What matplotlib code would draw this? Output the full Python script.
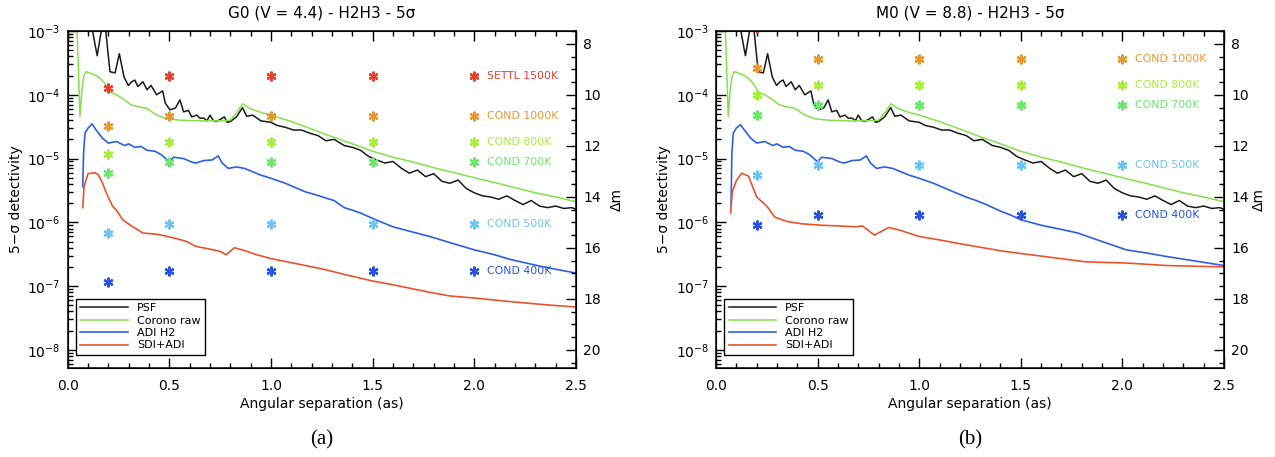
import math
import matplotlib
matplotlib.use("Agg")
import matplotlib.pyplot as plt
from matplotlib.ticker import MultipleLocator, LogLocator, NullFormatter

# ---- data ----------------------------------------------------------------
# PSF (same in both panels)
psf_x = [0.100, 0.120, 0.135, 0.145, 0.160, 0.175, 0.185, 0.200, 0.208, 0.233,
         0.254, 0.277, 0.298, 0.315, 0.330, 0.345, 0.370, 0.390, 0.410, 0.437,
         0.467, 0.480, 0.503, 0.530, 0.552, 0.570, 0.594, 0.610, 0.635, 0.650,
         0.670, 0.685, 0.700, 0.715, 0.730, 0.750, 0.770, 0.785, 0.800, 0.830,
         0.860, 0.880, 0.910, 0.950, 1.000, 1.030, 1.070, 1.110, 1.150, 1.190,
         1.230, 1.270, 1.310, 1.360, 1.400, 1.440, 1.480, 1.520, 1.560, 1.600,
         1.640, 1.680, 1.720, 1.760, 1.800, 1.840, 1.880, 1.920, 1.960, 2.000,
         2.040, 2.080, 2.120, 2.160, 2.200, 2.240, 2.280, 2.320, 2.360, 2.400,
         2.440, 2.480, 2.500]
psf_y = [1.5e-3, 1.1e-3, 6.0e-4, 4.1e-4, 8.0e-4, 1.5e-3, 1.2e-3, 4.0e-4, 2.3e-4, 2.2e-4,
         4.4e-4, 1.9e-4, 1.4e-4, 1.6e-4, 1.7e-4, 1.35e-4, 1.6e-4, 1.2e-4, 1.4e-4, 1.0e-4,
         1.15e-4, 7.4e-5, 5.8e-5, 6.2e-5, 8.3e-5, 5.4e-5, 5.7e-5, 4.5e-5, 4.8e-5, 4.3e-5,
         4.3e-5, 3.9e-5, 4.8e-5, 4.0e-5, 3.8e-5, 4.1e-5, 4.5e-5, 3.7e-5, 3.8e-5, 4.5e-5,
         6.3e-5, 4.6e-5, 4.8e-5, 3.9e-5, 3.7e-5, 3.3e-5, 3.1e-5, 2.8e-5, 2.8e-5, 2.5e-5,
         2.3e-5, 1.9e-5, 2.0e-5, 1.6e-5, 1.5e-5, 1.35e-5, 1.08e-5, 9.5e-6, 8.5e-6, 9.0e-6,
         7.1e-6, 5.9e-6, 6.6e-6, 5.2e-6, 5.8e-6, 4.4e-6, 4.1e-6, 4.6e-6, 3.4e-6, 2.9e-6,
         2.6e-6, 2.5e-6, 2.3e-6, 2.6e-6, 2.2e-6, 1.9e-6, 2.2e-6, 1.8e-6, 1.7e-6, 1.8e-6,
         1.65e-6, 1.7e-6, 1.6e-6]

# Coronagraph raw (same in both panels)
cor_x = [0.044, 0.052, 0.060, 0.070, 0.080, 0.090, 0.117, 0.140, 0.160, 0.180,
         0.210, 0.240, 0.280, 0.310, 0.345, 0.390, 0.437, 0.487, 0.550, 0.650,
         0.750, 0.800, 0.830, 0.860, 0.900, 0.950, 1.000, 1.100, 1.200, 1.300,
         1.400, 1.500, 1.600, 1.700, 1.800, 1.900, 2.000, 2.100, 2.200, 2.300,
         2.400, 2.500]
cor_y = [1.5e-3, 3.0e-4, 4.6e-5, 1.2e-4, 2.0e-4, 2.3e-4, 2.15e-4, 2.0e-4, 1.8e-4, 1.55e-4,
         1.1e-4, 1.0e-4, 8.3e-5, 7.0e-5, 6.5e-5, 6.1e-5, 4.8e-5, 4.2e-5, 4.0e-5, 3.9e-5,
         3.9e-5, 4.0e-5, 5.2e-5, 7.2e-5, 6.0e-5, 5.3e-5, 4.8e-5, 3.8e-5, 2.9e-5, 2.2e-5,
         1.7e-5, 1.3e-5, 1.05e-5, 8.8e-6, 7.2e-6, 6.0e-6, 5.0e-6, 4.2e-6, 3.5e-6, 2.9e-6,
         2.5e-6, 2.1e-6]

# ADI H2
adi_x_a = [0.074, 0.078, 0.085, 0.100, 0.120, 0.140, 0.170, 0.200, 0.240, 0.280,
           0.300, 0.330, 0.360, 0.390, 0.430, 0.460, 0.500, 0.520, 0.570, 0.610,
           0.630, 0.670, 0.710, 0.740, 0.760, 0.790, 0.830, 0.870, 0.910, 0.950,
           1.000, 1.070, 1.120, 1.170, 1.220, 1.270, 1.310, 1.360, 1.400, 1.440,
           1.500, 1.600, 1.700, 1.780, 1.900, 2.000, 2.100, 2.180, 2.340, 2.500]
adi_y_a = [3.6e-6, 1.2e-5, 2.5e-5, 3.0e-5, 3.5e-5, 2.8e-5, 2.1e-5, 1.75e-5, 1.85e-5, 1.6e-5,
           1.7e-5, 1.5e-5, 1.55e-5, 1.35e-5, 1.3e-5, 1.15e-5, 8.9e-6, 1.05e-5, 1.0e-5, 8.8e-6,
           8.5e-6, 9.3e-6, 9.5e-6, 1.1e-5, 8.5e-6, 7.0e-6, 7.4e-6, 7.0e-6, 6.2e-6, 5.5e-6,
           4.9e-6, 4.1e-6, 3.5e-6, 3.0e-6, 2.7e-6, 2.4e-6, 2.2e-6, 1.7e-6, 1.55e-6, 1.4e-6,
           1.15e-6, 8.5e-7, 7.0e-7, 6.0e-7, 4.6e-7, 3.7e-7, 3.1e-7, 2.6e-7, 2.0e-7, 1.6e-7]
adi_x_b = [0.074, 0.078, 0.085, 0.100, 0.120, 0.140, 0.170, 0.200, 0.240, 0.280,
           0.300, 0.330, 0.360, 0.390, 0.430, 0.460, 0.500, 0.520, 0.570, 0.610,
           0.630, 0.670, 0.710, 0.740, 0.760, 0.790, 0.830, 0.870, 0.910, 0.950,
           1.000, 1.070, 1.120, 1.170, 1.230, 1.280, 1.330, 1.400, 1.450, 1.500,
           1.600, 1.720, 1.780, 1.900, 2.020, 2.120, 2.220, 2.350, 2.500]
adi_y_b = [1.8e-6, 1.2e-5, 2.5e-5, 3.0e-5, 3.4e-5, 2.8e-5, 2.1e-5, 1.75e-5, 1.85e-5, 1.6e-5,
           1.7e-5, 1.5e-5, 1.55e-5, 1.35e-5, 1.3e-5, 1.15e-5, 8.9e-6, 1.05e-5, 1.0e-5, 8.8e-6,
           8.5e-6, 9.3e-6, 9.5e-6, 1.1e-5, 8.5e-6, 7.0e-6, 7.4e-6, 7.0e-6, 6.2e-6, 5.5e-6,
           4.9e-6, 4.1e-6, 3.5e-6, 3.0e-6, 2.5e-6, 2.2e-6, 1.9e-6, 1.5e-6, 1.3e-6, 1.1e-6,
           9.0e-7, 7.5e-7, 6.8e-7, 5.0e-7, 3.7e-7, 3.3e-7, 2.9e-7, 2.5e-7, 2.1e-7]

# SDI+ADI
sdi_x_a = [0.074, 0.080, 0.090, 0.100, 0.134, 0.150, 0.170, 0.190, 0.220, 0.240,
           0.270, 0.320, 0.370, 0.440, 0.490, 0.540, 0.585, 0.630, 0.700, 0.750,
           0.780, 0.820, 0.870, 0.930, 1.000, 1.080, 1.170, 1.270, 1.370, 1.500,
           1.600, 1.680, 1.780, 1.880, 2.000, 2.180, 2.350, 2.500]
sdi_y_a = [1.7e-6, 3.5e-6, 4.6e-6, 5.8e-6, 6.0e-6, 5.6e-6, 4.2e-6, 2.9e-6, 1.8e-6, 1.55e-6,
           1.1e-6, 8.5e-7, 6.8e-7, 6.5e-7, 6.0e-7, 5.5e-7, 5.0e-7, 4.2e-7, 3.8e-7, 3.5e-7,
           3.1e-7, 4.0e-7, 3.6e-7, 3.1e-7, 2.7e-7, 2.4e-7, 2.1e-7, 1.8e-7, 1.5e-7, 1.2e-7,
           1.05e-7, 9.3e-8, 8.0e-8, 7.0e-8, 6.5e-8, 5.7e-8, 5.1e-8, 4.7e-8]
sdi_x_b = [0.072, 0.080, 0.100, 0.126, 0.160, 0.200, 0.250, 0.290, 0.350, 0.420,
           0.520, 0.600, 0.690, 0.720, 0.780, 0.850, 0.900, 1.000, 1.100, 1.220,
           1.420, 1.620, 1.820, 2.020, 2.220, 2.500]
sdi_y_b = [1.4e-6, 3.0e-6, 4.5e-6, 5.9e-6, 5.3e-6, 2.5e-6, 1.8e-6, 1.2e-6, 1.03e-6, 9.5e-7,
           9.0e-7, 8.8e-7, 8.5e-7, 8.8e-7, 6.3e-7, 8.3e-7, 7.6e-7, 6.0e-7, 5.3e-7, 4.5e-7,
           3.5e-7, 2.9e-7, 2.4e-7, 2.3e-7, 2.1e-7, 2.0e-7]

# planet models (asterisks) at these separations
sep = [0.2, 0.5, 1.0, 1.5, 2.0]
models_a = {
    "SETTL 1500K": [1.3e-4, 2.0e-4, 2.0e-4, 2.0e-4, 2.0e-4],
    "COND 1000K": [3.2e-5, 4.6e-5, 4.6e-5, 4.6e-5, 4.6e-5],
    "COND 800K": [1.2e-5, 1.8e-5, 1.8e-5, 1.8e-5, 1.8e-5],
    "COND 700K": [6.0e-6, 8.7e-6, 8.7e-6, 8.7e-6, 8.7e-6],
    "COND 500K": [6.8e-7, 9.5e-7, 9.5e-7, 9.5e-7, 9.5e-7],
    "COND 400K": [1.15e-7, 1.7e-7, 1.7e-7, 1.7e-7, 1.7e-7],
}
models_b = {
    "SETTL 1500K": [1.12e-3, 1.6e-3, 1.6e-3, 1.6e-3, 1.6e-3],
    "COND 1000K": [2.6e-4, 3.7e-4, 3.7e-4, 3.7e-4, 3.7e-4],
    "COND 800K": [9.8e-5, 1.4e-4, 1.4e-4, 1.4e-4, 1.4e-4],
    "COND 700K": [4.8e-5, 6.8e-5, 6.8e-5, 6.8e-5, 6.8e-5],
    "COND 500K": [5.5e-6, 7.8e-6, 7.8e-6, 7.8e-6, 7.8e-6],
    "COND 400K": [9.1e-7, 1.3e-6, 1.3e-6, 1.3e-6, 1.3e-6],
}
model_colors = {
    "SETTL 1500K": "#e8402a",
    "COND 1000K": "#e8962e",
    "COND 800K": "#a8ee3c",
    "COND 700K": "#6ae86e",
    "COND 500K": "#6cc4f0",
    "COND 400K": "#2a52e0",
}

titles = ["G0 (V = 4.4) - H2H3 - 5σ", "M0 (V = 8.8) - H2H3 - 5σ"]
captions = ["(a)", "(b)"]

C_PSF, C_COR, C_ADI, C_SDI = "#1a1a1a", "#86e04a", "#2d5fe6", "#e8542e"
YMIN, YMAX = 5.2e-9, 1.0e-3

plt.rcParams["font.family"] = "DejaVu Sans"

fig = plt.figure(figsize=(12.75, 4.57), dpi=100)
axes = [fig.add_axes([67.7 / 1275, 89 / 457, 508.3 / 1275, 337 / 457]),
        fig.add_axes([716 / 1275, 89 / 457, 508 / 1275, 337 / 457])]

panels = [
    (adi_x_a, adi_y_a, sdi_x_a, sdi_y_a, models_a),
    (adi_x_b, adi_y_b, sdi_x_b, sdi_y_b, models_b),
]

for i, (ax, (ax_x, ax_y, sx, sy, models)) in enumerate(zip(axes, panels)):
    ax.plot(psf_x, psf_y, color=C_PSF, lw=1.1, label="PSF")
    ax.plot(cor_x, cor_y, color=C_COR, lw=1.1, label="Corono raw")
    ax.plot(ax_x, ax_y, color=C_ADI, lw=1.2, label="ADI H2")
    ax.plot(sx, sy, color=C_SDI, lw=1.2, label="SDI+ADI")

    for name, vals in models.items():
        col = model_colors[name]
        ax.plot(sep, vals, ls="none", marker=(6, 2, 0), ms=7, mew=1.6,
                color=col)
        if vals[-1] < YMAX:
            ax.text(2.06, vals[-1], name, color=col, fontsize=7.8,
                    va="center", ha="left")

    ax.set_yscale("log")
    ax.set_xlim(0, 2.5)
    ax.set_ylim(YMIN, YMAX)
    ax.xaxis.set_major_locator(MultipleLocator(0.5))
    ax.xaxis.set_minor_locator(MultipleLocator(0.1))
    ax.xaxis.set_major_formatter(plt.FormatStrFormatter("%.1f"))
    ax.yaxis.set_major_locator(LogLocator(base=10, numticks=12))
    ax.yaxis.set_minor_locator(LogLocator(base=10, subs=range(2, 10), numticks=12))
    ax.yaxis.set_minor_formatter(NullFormatter())
    ax.tick_params(which="both", direction="in", top=True, right=False,
                   labelsize=10, width=1.0)
    ax.tick_params(which="major", length=7)
    ax.tick_params(which="minor", length=3.5)
    ax.tick_params(axis="x", pad=8)
    ax.tick_params(axis="y", pad=5)
    for sp in ax.spines.values():
        sp.set_linewidth(1.1)

    ax.set_xlabel("Angular separation (as)", fontsize=10, labelpad=3)
    ax.set_ylabel("5−σ detectivity", fontsize=10)
    ax.yaxis.set_label_coords(-0.088, 0.5)
    ax.set_title(titles[i], fontsize=11, pad=10)

    leg = ax.legend(loc="lower left", bbox_to_anchor=(0.016, 0.039),
                    borderaxespad=0, fontsize=8, handlelength=4.3,
                    handletextpad=0.8, labelspacing=0.22, fancybox=False,
                    framealpha=1, borderpad=0.4)
    leg.get_frame().set_edgecolor("black")
    leg.get_frame().set_linewidth(1.0)

    # right axis: contrast in magnitudes
    tw = ax.twinx()
    tw.set_ylim(-2.5 * math.log10(YMIN), -2.5 * math.log10(YMAX))
    tw.yaxis.set_major_locator(MultipleLocator(2))
    tw.yaxis.set_minor_locator(MultipleLocator(0.5))
    tw.tick_params(which="both", direction="in", labelsize=10, pad=5, width=1.0)
    tw.tick_params(which="major", length=7)
    tw.tick_params(which="minor", length=3.5)
    tw.set_ylabel("Δm", fontsize=10, rotation=90)
    tw.yaxis.set_label_coords(1.066 if i == 0 else 1.055, 0.5)

    cx = ax.get_position().x0 + ax.get_position().width / 2
    fig.text(cx, 1 - 440 / 457, captions[i], ha="center", va="center",
             fontsize=15, family="Liberation Serif")

fig.savefig("out.png", dpi=100)
